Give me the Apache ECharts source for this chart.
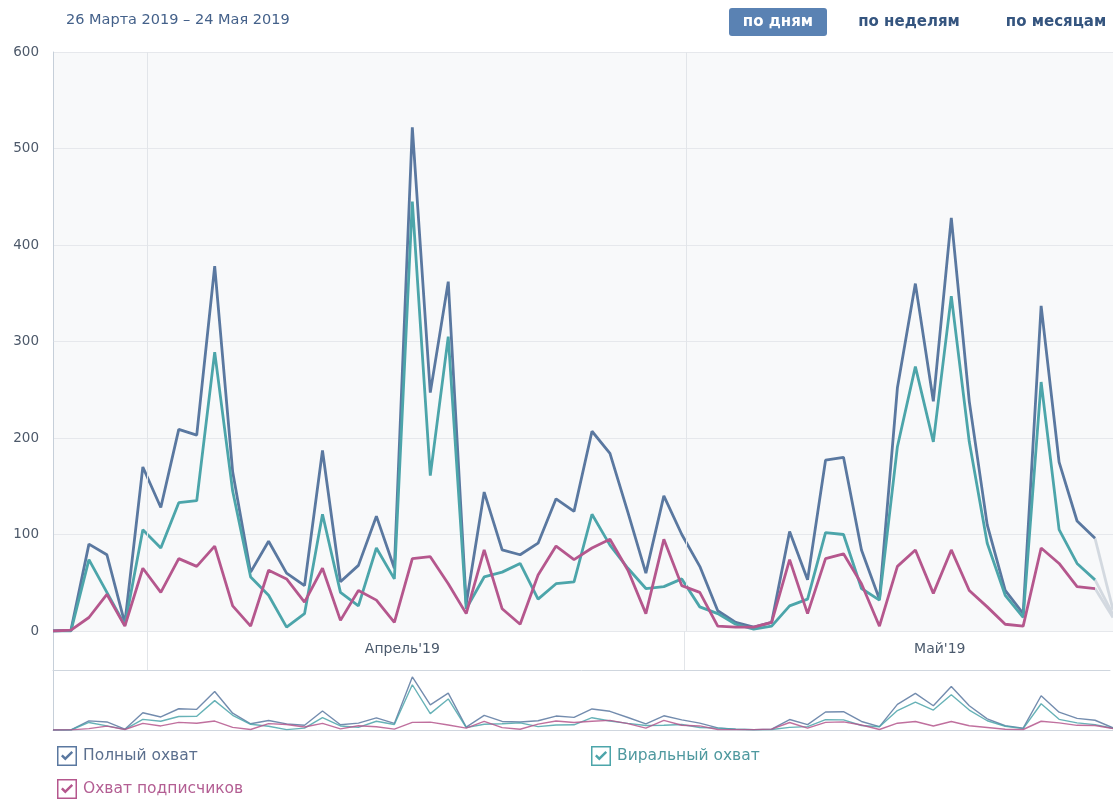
<!DOCTYPE html>
<html><head><meta charset="utf-8">
<script src="https://cdn.jsdelivr.net/npm/echarts@6/dist/echarts.min.js"></script>
<style>html,body{margin:0;padding:0;background:#fff}#c{width:1113px;height:800px}</style>
</head><body><div id="c"></div>
<script>
const dates = ['26.03','27.03','28.03','29.03','30.03','31.03',
 '01.04','02.04','03.04','04.04','05.04','06.04','07.04','08.04','09.04','10.04',
 '11.04','12.04','13.04','14.04','15.04','16.04','17.04','18.04','19.04','20.04',
 '21.04','22.04','23.04','24.04','25.04','26.04','27.04','28.04','29.04','30.04',
 '01.05','02.05','03.05','04.05','05.05','06.05','07.05','08.05','09.05','10.05',
 '11.05','12.05','13.05','14.05','15.05','16.05','17.05','18.05','19.05','20.05',
 '21.05','22.05','23.05','24.05'];
const fullReach = [0,1,90,79,8,170,128,209,203,378,
 165,61,93,60,47,187,51,68,119,65,
 522,247,362,28,144,84,79,91,137,124,
 207,184,123,60,140,100,67,21,9,4,
 9,103,53,177,180,84,33,252,360,238,
 428,238,110,42,18,337,175,114,96,22];
const viralReach = [0,0,74,40,6,105,86,133,135,289,
 145,56,37,4,18,121,40,26,86,54,
 445,161,305,23,56,61,70,33,49,51,
 121,89,65,44,46,54,25,18,7,2,
 5,26,33,102,100,44,32,191,274,196,
 347,196,91,37,14,258,105,70,53,17];
const subsReach = [0,1,14,38,5,65,40,75,67,88,
 26,5,63,54,30,65,11,42,32,9,
 75,77,49,18,84,23,7,58,88,74,
 86,95,63,18,95,47,40,5,4,4,
 9,74,18,75,80,49,5,67,84,39,
 84,42,25,7,5,86,70,46,44,14];
const seriesNames = ['Полный охват','Виральный охват','Охват подписчиков'];
const monthNames = ["Апрель'19", "Май'19"];
const monthFirstDays = ['01.04', '01.05'];
const periodText = '26 Марта 2019 – 24 Мая 2019';
const buttonLabels = ['по дням', 'по неделям', 'по месяцам'];

const colors = ['#5a78a0', '#4ca5aa', '#b5578d'];
const textColors = ['#5b6f8e', '#4f999f', '#b35e93'];
const tailColor = '#d3d9e0';
const FONT = 'DejaVu Sans';
const last = dates.length - 1;
const allData = [fullReach, viralReach, subsReach];
const pairs = arr => arr.map((v, i) => [i, v]);
const monthStartIdx = monthFirstDays.map(d => dates.indexOf(d));
const checkIcon = 'path://M0 0H20V20H0Z M1.5 1.5V18.5H18.5V1.5Z M4 10.2L5.7 8.5L8.3 11.1L14.4 5L16.1 6.7L8.3 14.5Z';

const series = [];
[0, 1].forEach(gi => {
  series.push({
    type: 'line', xAxisIndex: gi, yAxisIndex: gi, data: [], silent: true, z: 1,
    markLine: { silent: true, symbol: 'none', label: { show: false }, animation: false,
      lineStyle: { color: '#e2e5e9', width: 1, type: 'solid' },
      data: monthStartIdx.map(i => ({ xAxis: i - 0.74 })) }
  });
});
allData.forEach((arr, k) => {
  series.push({
    name: seriesNames[k], type: 'line', xAxisIndex: 0, yAxisIndex: 0,
    data: pairs(arr).slice(0, last), showSymbol: false, symbol: 'none',
    color: colors[k], lineStyle: { width: 2.8, color: colors[k] }, z: 3 + k
  });
  series.push({
    name: 'tail' + k, type: 'line', xAxisIndex: 0, yAxisIndex: 0,
    data: pairs(arr).slice(last - 1), showSymbol: false, symbol: 'none',
    lineStyle: { width: 2.8, color: tailColor }, z: 2
  });
  series.push({
    name: 'mini' + k, type: 'line', xAxisIndex: 2, yAxisIndex: 2,
    data: pairs(arr), showSymbol: false, symbol: 'none',
    lineStyle: { width: 1.4, color: colors[k], opacity: 0.85 }, z: 3
  });
});

const gridBase = { left: 53, right: 0 };
const option = {
  animation: false,
  textStyle: { fontFamily: FONT },
  title: { text: periodText, left: 61, top: 8,
    textStyle: { fontFamily: FONT, fontSize: 14.5, fontWeight: 'normal', color: '#44618a' } },
  grid: [
    Object.assign({ top: 52, bottom: 169, show: true, backgroundColor: '#f8f9fa', borderWidth: 0 }, gridBase),
    Object.assign({ top: 631, height: 39 }, gridBase),
    Object.assign({ top: 670, height: 60 }, gridBase)
  ],
  xAxis: [
    { gridIndex: 0, type: 'value', min: 0, max: last, show: true,
      axisLine: { show: false }, axisTick: { show: false }, axisLabel: { show: false }, splitLine: { show: false } },
    { gridIndex: 1, type: 'value', min: 0, max: last, interval: 0.5,
      axisLine: { show: true, lineStyle: { color: '#cfd6de' } }, axisTick: { show: false }, splitLine: { show: false },
      axisLabel: { show: true, inside: true, margin: 21, verticalAlign: 'middle', showMinLabel: true, showMaxLabel: true,
        fontFamily: FONT, fontSize: 14, color: '#4b5a6d',
        formatter: v => { const m = monthStartIdx.findIndex(s => Math.abs(s + 13.5 - v) < 0.01); return m >= 0 ? monthNames[m] : ''; } } },
    { gridIndex: 2, type: 'value', min: 0, max: last,
      axisLine: { show: true, lineStyle: { color: '#cfd6de' } }, axisTick: { show: false }, axisLabel: { show: false }, splitLine: { show: false } }
  ],
  yAxis: [
    { gridIndex: 0, type: 'value', min: 0, max: 600, interval: 100,
      axisLine: { show: true, lineStyle: { color: '#c6cfd9' } }, axisTick: { show: false },
      axisLabel: { fontFamily: FONT, fontSize: 13.5, color: '#4d596a', margin: 14 },
      splitLine: { lineStyle: { color: '#e6e8ec', width: 1 } } },
    { gridIndex: 1, type: 'value', min: 0, max: 1,
      axisLine: { show: true, lineStyle: { color: '#c6cfd9' } }, axisTick: { show: false }, axisLabel: { show: false }, splitLine: { show: false } },
    { gridIndex: 2, type: 'value', min: 0, max: 590,
      axisLine: { show: true, lineStyle: { color: '#c6cfd9' } }, axisTick: { show: false }, axisLabel: { show: false }, splitLine: { show: false } }
  ],
  legend: [
    { left: 57, top: 746, data: [seriesNames[0]], k: 0 },
    { left: 591, top: 746, data: [seriesNames[1]], k: 1 },
    { left: 57, top: 779, data: [seriesNames[2]], k: 2 }
  ].map(l => ({ left: l.left, top: l.top, data: l.data, icon: checkIcon, itemWidth: 20, itemHeight: 20,
    itemStyle: { borderWidth: 0 }, selectedMode: false, padding: 0,
    textStyle: { fontFamily: FONT, fontSize: 15.5, color: textColors[l.k], padding: [0, 0, 0, 1] } })),
  graphic: [
    { type: 'rect', left: 729, top: 8, shape: { width: 98, height: 28, r: 3 }, style: { fill: '#5a82b3' } },
    { type: 'text', x: 778, y: 22, style: { text: buttonLabels[0], fill: '#fff', font: 'bold 15px "DejaVu Sans"', textAlign: 'center', textVerticalAlign: 'middle' } },
    { type: 'text', x: 909, y: 22, style: { text: buttonLabels[1], fill: '#35557f', font: 'bold 15px "DejaVu Sans"', textAlign: 'center', textVerticalAlign: 'middle' } },
    { type: 'text', x: 1056, y: 22, style: { text: buttonLabels[2], fill: '#35557f', font: 'bold 15px "DejaVu Sans"', textAlign: 'center', textVerticalAlign: 'middle' } }
  ],
  series: series
};
const chart = echarts.init(document.getElementById('c'), null, { renderer: 'canvas' });
chart.setOption(option);
</script></body></html>
